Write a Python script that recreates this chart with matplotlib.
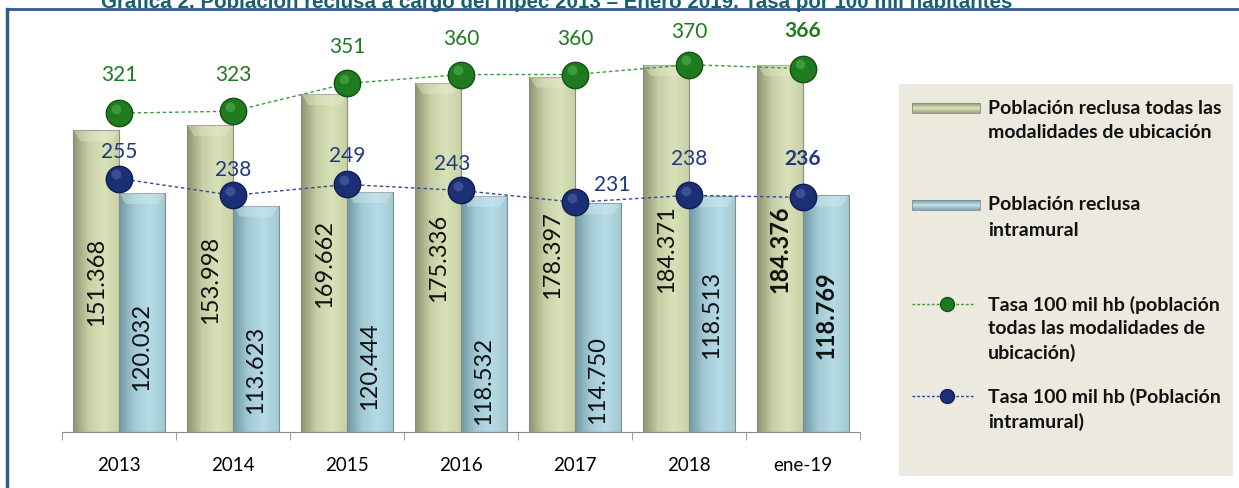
import numpy as np
import matplotlib
matplotlib.use("Agg")
import matplotlib.pyplot as plt
from matplotlib.colors import LinearSegmentedColormap
from matplotlib.patches import Rectangle, Polygon
from matplotlib.transforms import ScaledTranslation

plt.rcParams['font.family'] = ['Lato', 'DejaVu Sans']

# data
years = ['2013', '2014', '2015', '2016', '2017', '2018', 'ene-19']
pob_total = [151368, 153998, 169662, 175336, 178397, 184371, 184376]
pob_intramural = [120032, 113623, 120444, 118532, 114750, 118513, 118769]
tasa_total = [321, 323, 351, 360, 360, 370, 366]
tasa_intramural = [255, 238, 249, 243, 231, 238, 236]

# label placement (layout only)
intra_label_frac = [0.36, 0.28, 0.28, 0.22, 0.23, 0.5, 0.5]
total_rate_off = [(0, 28), (0, 27), (0, 27), (0, 26), (0, 26), (0, 24), (0, 28)]
intra_rate_off = [(0, 20), (0, 19), (0, 21), (-6.5, 20), (26.6, 13), (0, 27), (0, 28)]

GREEN_TXT = '#1F7A1F'
BLUE_TXT = '#1F3A7A'


def fmt(v):
    return f"{v:,}".replace(',', '.')


def shade_bars(ax, bars, colors, top_color):
    cmap = LinearSegmentedColormap.from_list('shade', colors)
    grad = np.linspace(0, 1, 256).reshape(1, -1)
    for b in bars:
        x, y = b.get_x(), b.get_y()
        w, h = b.get_width(), b.get_height()
        im = ax.imshow(grad, extent=[x, x + w, y, y + h], aspect='auto',
                       cmap=cmap, zorder=1.9, interpolation='bicubic')
        im.set_clip_path(b)
        b.set_facecolor('none')
        # bevel on top of the bar
        d = 5500
        ax.add_patch(Polygon([(x, y + h), (x + w, y + h), (x + w * 0.85, y + h - d),
                              (x + w * 0.15, y + h - d)], closed=True,
                             facecolor=top_color, edgecolor='none', alpha=0.4, zorder=2.1))


fig = plt.figure(figsize=(12.39, 4.89), dpi=100)

# overlay in pixel coordinates for frame, title and legend
over = fig.add_axes([0, 0, 1, 1], zorder=0)
over.set_xlim(0, 1239)
over.set_ylim(489, 0)
over.axis('off')
over.plot([7, 1239], [10, 10], color='#2F5B8F', lw=2)
over.plot([7, 7], [10, 489], color='#2F5B8F', lw=2.5)
# the title is cut at the top edge, as in the source image
over.text(557, 8, 'Gráfica 2. Población reclusa a cargo del Inpec 2013 – Enero 2019. '
          'Tasa por 100 mil habitantes', ha='center', va='baseline', fontsize=14.8,
          fontweight='bold', color='#17606E', family=['Liberation Sans', 'DejaVu Sans'])

over.add_patch(Rectangle((899, 85), 334, 392, facecolor='#ECEADF', edgecolor='none'))

# legend swatches
sw_x0, sw_x1 = 912, 980
for yc, cols in [(109, ['#8E9270', '#DCE4BC', '#9EA27E']),
                 (206, ['#6F98A3', '#C4E4EC', '#7FA5B0'])]:
    cm = LinearSegmentedColormap.from_list('sw', cols)
    over.imshow(np.linspace(0, 1, 64).reshape(-1, 1), extent=[sw_x0, sw_x1, yc + 5, yc - 5],
                aspect='auto', cmap=cm, zorder=2)
    over.add_patch(Rectangle((sw_x0, yc - 5), sw_x1 - sw_x0, 10, facecolor='none',
                             edgecolor='#8A8A8A', lw=0.6, zorder=3))
for yc, lc, mc, ec in [(305, '#3C9A3C', '#1E7B1E', '#145214'),
                       (397, '#2F4A96', '#1C2F75', '#0F1E50')]:
    over.plot([912, 973], [yc, yc], color=lc, lw=1, linestyle=(0, (2, 1.5)), zorder=2)
    over.plot([947], [yc], marker='o', markersize=10, color=mc, markeredgecolor=ec, zorder=3)
over.set_xlim(0, 1239)
over.set_ylim(489, 0)

legend_lines = [
    (109, 'Población reclusa todas las'), (133, 'modalidades de ubicación'),
    (205, 'Población reclusa'), (230, 'intramural'),
    (305, 'Tasa 100 mil hb (población'), (329, 'todas las modalidades de'), (353, 'ubicación)'),
    (397, 'Tasa 100 mil hb (Población'), (422, 'intramural)'),
]
for yc, txt in legend_lines:
    over.text(988, yc, txt, ha='left', va='center', fontsize=14, fontweight='bold',
              color='#111111')

# main chart
ax = fig.add_axes([62 / 1239, 56 / 489, 798 / 1239, 403 / 489], zorder=1)
ax.patch.set_alpha(0)
x = np.arange(len(years))
w = 0.4
bars_t = ax.bar(x - 0.2, pob_total, w, edgecolor='#8A8A8A', linewidth=0.8, zorder=2)
bars_i = ax.bar(x + 0.2, pob_intramural, w, edgecolor='#8A8A8A', linewidth=0.8, zorder=2)
shade_bars(ax, bars_t, ['#8E9270', '#C6CEA3', '#D8E1B8', '#C9D1A6'], '#E8EDD2')
shade_bars(ax, bars_i, ['#6F98A3', '#A3CAD5', '#B5DCE6', '#A3C9D3'], '#D5EEF4')
ax.set_xlim(-0.5, 6.5)
ax.set_ylim(0, 202300)

for i in range(len(years)):
    last = i == len(years) - 1
    ax.text(x[i] - 0.2, pob_total[i] / 2, fmt(pob_total[i]), rotation=90, ha='center',
            va='center', fontsize=17, color='#111111', zorder=3,
            fontweight='bold' if last else 'normal')
    ax.text(x[i] + 0.2, pob_intramural[i] * intra_label_frac[i], fmt(pob_intramural[i]),
            rotation=90, ha='center', va='center', fontsize=17, color='#111111', zorder=3,
            fontweight='bold' if last else 'normal')

for s in ['left', 'right', 'top']:
    ax.spines[s].set_visible(False)
ax.spines['bottom'].set_color('#8C8C8C')
ax.set_yticks([])
ax.set_xticks(x)
ax.set_xticklabels(years, fontsize=13.5)
ax.tick_params(axis='x', which='major', length=0, pad=17)
ax.set_xticks(np.arange(-0.5, 7, 1), minor=True)
ax.tick_params(axis='x', which='minor', length=6, color='#8C8C8C', direction='out')

ax2 = ax.twinx()
ax2.set_ylim(-1, 406)
ax2.axis('off')
hl = ScaledTranslation(-2.5 / 72, 3 / 72, fig.dpi_scale_trans)
for vals, lc, mc, ec, hc, tc, offs in [
        (tasa_total, '#3C9A3C', '#1E7B1E', '#145214', '#62C062', GREEN_TXT, total_rate_off),
        (tasa_intramural, '#2F4A96', '#1C2F75', '#0F1E50', '#6178C0', BLUE_TXT, intra_rate_off)]:
    ax2.plot(x, vals, color=lc, lw=1, linestyle=(0, (2.5, 2)), zorder=3)
    ax2.plot(x, vals, 'o', markersize=19, color=mc, markeredgecolor=ec, markeredgewidth=1, zorder=4)
    ax2.plot(x, vals, 'o', markersize=7, color=hc, markeredgewidth=0, alpha=0.45, zorder=5,
             transform=ax2.transData + hl)
    for i, v in enumerate(vals):
        last = i == len(vals) - 1
        ax2.annotate(str(v), (x[i], v), xytext=offs[i], textcoords='offset points',
                     ha='center', va='center', fontsize=15, color=tc,
                     fontweight='bold' if last else 'normal')

fig.savefig('out.png', dpi=100)
